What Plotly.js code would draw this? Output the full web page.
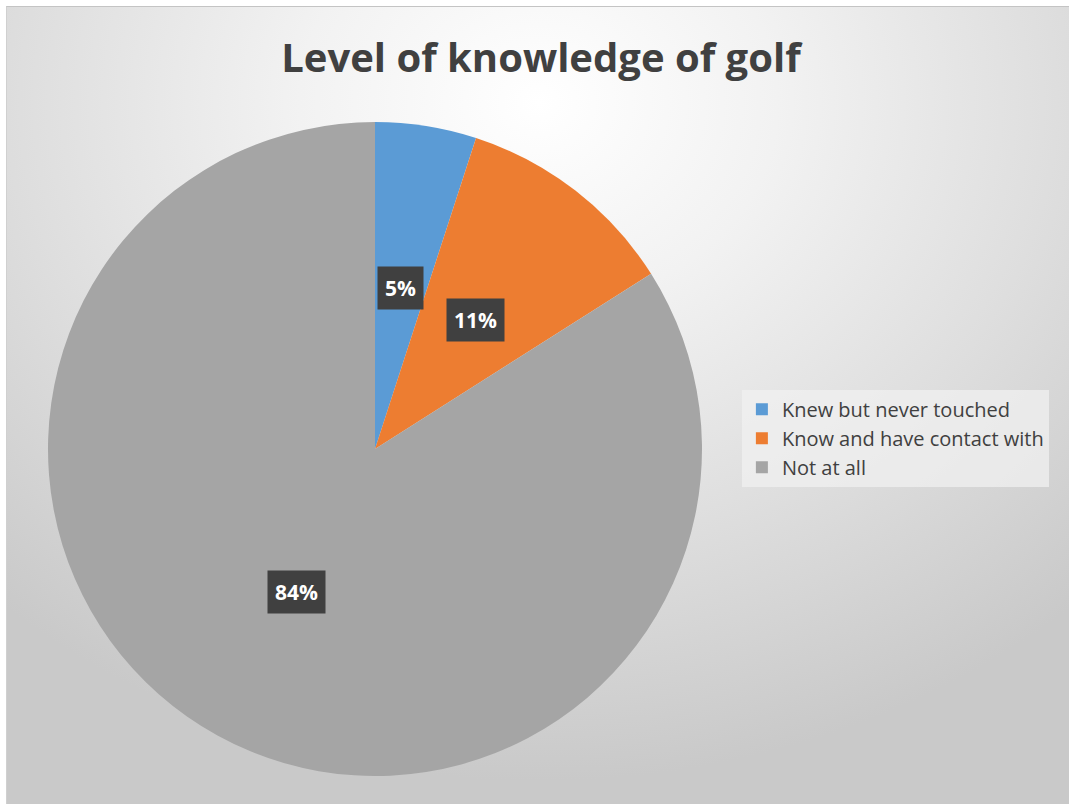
<!DOCTYPE html>
<html>
<head>
<meta charset="utf-8">
<script src="https://cdn.plot.ly/plotly-3.0.1.min.js"></script>
<style>
  html, body { margin: 0; padding: 0; background: #ffffff; }
  #frame {
    position: absolute; left: 6px; top: 6px; width: 1063px; height: 798px;
    border-top: 1px solid #c4c4c4; border-left: 1px solid #d0d0d0;
    background: radial-gradient(ellipse 75% 85% at 50% 12%, #ffffff 0%, #f2f2f2 30%, #dedede 65%, #c9c9c9 100%);
  }
  #chart { position: absolute; left: 0; top: 0; width: 1069px; height: 804px; }
</style>
</head>
<body>
<div id="frame"></div>
<div id="chart"></div>
<script>
// ---- data ----
const categories = ["Knew but never touched", "Know and have contact with", "Not at all"];
const values = [5, 11, 84];
const percentLabels = ["5%", "11%", "84%"];
const sliceColors = ["#5b9bd5", "#ed7d31", "#a5a5a5"];

// ---- layout geometry ----
const W = 1069, H = 804;
const cx = 375, cy = 449, R = 327;
const domX = [(cx - R) / W, (cx + R) / W];
const domY = [(H - (cy + R)) / H, (H - (cy - R)) / H];

// label positions computed from the data (mid-angle, half radius)
const total = values.reduce((a, b) => a + b, 0);
let cum = 0;
const annotations = [];
values.forEach((v, i) => {
  const mid = (cum + v / 2) / total * 2 * Math.PI;
  cum += v;
  const r = 0.5 * R;
  const px = cx + r * Math.sin(mid);
  const py = cy - r * Math.cos(mid);
  annotations.push({
    x: px / W, y: 1 - py / H, xref: "paper", yref: "paper",
    text: "<b>" + percentLabels[i] + "</b>", showarrow: false,
    font: { family: "Open Sans, sans-serif", size: 21, color: "#ffffff" },
    bgcolor: "#404040", borderpad: 7, xanchor: "center", yanchor: "middle"
  });
});

const trace = {
  type: "pie",
  labels: categories,
  values: values,
  sort: false,
  direction: "clockwise",
  rotation: 0,
  marker: { colors: sliceColors, line: { width: 0 } },
  textinfo: "none",
  hoverinfo: "label+percent",
  domain: { x: domX, y: domY }
};

const layout = {
  width: W, height: H,
  margin: { l: 0, r: 0, t: 0, b: 0 },
  paper_bgcolor: "rgba(0,0,0,0)",
  plot_bgcolor: "rgba(0,0,0,0)",
  title: {
    text: "<b>Level of knowledge of golf</b>",
    font: { family: "Open Sans, sans-serif", size: 40, color: "#404040" },
    x: 0.506, xanchor: "center", y: 0.928, yanchor: "middle"
  },
  showlegend: true,
  legend: {
    x: 0.694, xanchor: "left", y: 0.455, yanchor: "middle",
    bgcolor: "rgba(240,240,240,0.75)",
    font: { family: "Open Sans, sans-serif", size: 20, color: "#404040" },
    traceorder: "normal"
  },
  annotations: annotations
};

Plotly.newPlot("chart", [trace], layout, { displayModeBar: false });
</script>
</body>
</html>
